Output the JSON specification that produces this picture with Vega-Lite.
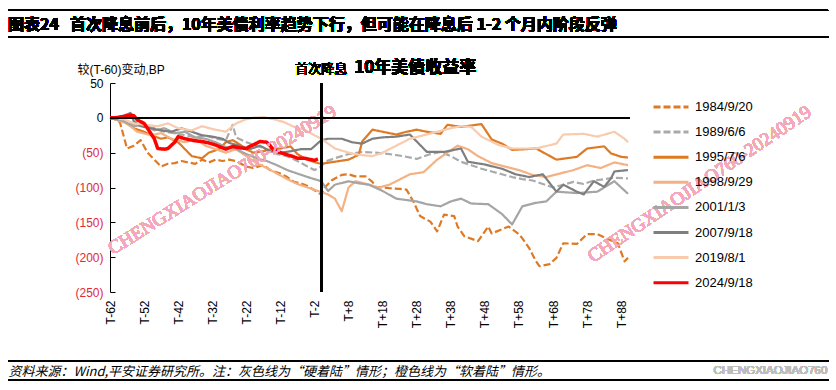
{
  "$schema": "https://vega.github.io/schema/vega-lite/v6.json",
  "width": 518,
  "height": 209,
  "autosize": {"type": "none"},
  "padding": {"left": 110, "top": 83, "right": 208, "bottom": 98},
  "background": "white",
  "config": {
    "view": {"stroke": null},
    "font": "Liberation Sans, Noto Sans CJK SC",
    "axis": {"labelOverlap": false, "labelBound": false}
  },
  "data": {"values": [
    {"s":"1984/9/20","t":-62,"v":0},{"s":"1984/9/20","t":-60,"v":0},{"s":"1984/9/20","t":-59,"v":-8},{"s":"1984/9/20","t":-57,"v":-44},{"s":"1984/9/20","t":-55,"v":-40},{"s":"1984/9/20","t":-53,"v":-32},{"s":"1984/9/20","t":-51,"v":-50},{"s":"1984/9/20","t":-49,"v":-60},{"s":"1984/9/20","t":-47,"v":-70},{"s":"1984/9/20","t":-45,"v":-66},{"s":"1984/9/20","t":-43,"v":-65},{"s":"1984/9/20","t":-41,"v":-62},{"s":"1984/9/20","t":-39,"v":-64},{"s":"1984/9/20","t":-37,"v":-66},{"s":"1984/9/20","t":-35,"v":-60},{"s":"1984/9/20","t":-33,"v":-64},{"s":"1984/9/20","t":-31,"v":-60},{"s":"1984/9/20","t":-29,"v":-62},{"s":"1984/9/20","t":-27,"v":-60},{"s":"1984/9/20","t":-25,"v":-62},{"s":"1984/9/20","t":-22,"v":-70},{"s":"1984/9/20","t":-20,"v":-72},{"s":"1984/9/20","t":-17,"v":-68},{"s":"1984/9/20","t":-15,"v":-75},{"s":"1984/9/20","t":-12,"v":-80},{"s":"1984/9/20","t":-10,"v":-85},{"s":"1984/9/20","t":-8,"v":-92},{"s":"1984/9/20","t":-6,"v":-94},{"s":"1984/9/20","t":-4,"v":-98},{"s":"1984/9/20","t":-2,"v":-104},{"s":"1984/9/20","t":0,"v":-110},{"s":"1984/9/20","t":1,"v":-100},{"s":"1984/9/20","t":3,"v":-90},{"s":"1984/9/20","t":4,"v":-87},{"s":"1984/9/20","t":6,"v":-82},{"s":"1984/9/20","t":8,"v":-81},{"s":"1984/9/20","t":10,"v":-84},{"s":"1984/9/20","t":13,"v":-84},{"s":"1984/9/20","t":15,"v":-92},{"s":"1984/9/20","t":16,"v":-99},{"s":"1984/9/20","t":18,"v":-100},{"s":"1984/9/20","t":20,"v":-101},{"s":"1984/9/20","t":23,"v":-102},{"s":"1984/9/20","t":25,"v":-103},{"s":"1984/9/20","t":27,"v":-120},{"s":"1984/9/20","t":29,"v":-141},{"s":"1984/9/20","t":32,"v":-149},{"s":"1984/9/20","t":34,"v":-163},{"s":"1984/9/20","t":36,"v":-139},{"s":"1984/9/20","t":39,"v":-141},{"s":"1984/9/20","t":40,"v":-156},{"s":"1984/9/20","t":42,"v":-170},{"s":"1984/9/20","t":46,"v":-177},{"s":"1984/9/20","t":49,"v":-156},{"s":"1984/9/20","t":50,"v":-166},{"s":"1984/9/20","t":55,"v":-156},{"s":"1984/9/20","t":58,"v":-167},{"s":"1984/9/20","t":59,"v":-173},{"s":"1984/9/20","t":61,"v":-187},{"s":"1984/9/20","t":63,"v":-206},{"s":"1984/9/20","t":64,"v":-213},{"s":"1984/9/20","t":67,"v":-210},{"s":"1984/9/20","t":69,"v":-201},{"s":"1984/9/20","t":71,"v":-180},{"s":"1984/9/20","t":75,"v":-181},{"s":"1984/9/20","t":78,"v":-167},{"s":"1984/9/20","t":81,"v":-167},{"s":"1984/9/20","t":84,"v":-174},{"s":"1984/9/20","t":87,"v":-180},{"s":"1984/9/20","t":89,"v":-206},{"s":"1984/9/20","t":90,"v":-201},

    {"s":"1989/6/6","t":-62,"v":0},{"s":"1989/6/6","t":-58,"v":-3},{"s":"1989/6/6","t":-55,"v":-10},{"s":"1989/6/6","t":-52,"v":-12},{"s":"1989/6/6","t":-49,"v":-15},{"s":"1989/6/6","t":-46,"v":-20},{"s":"1989/6/6","t":-43,"v":-22},{"s":"1989/6/6","t":-40,"v":-25},{"s":"1989/6/6","t":-37,"v":-28},{"s":"1989/6/6","t":-34,"v":-25},{"s":"1989/6/6","t":-31,"v":-30},{"s":"1989/6/6","t":-28,"v":-32},{"s":"1989/6/6","t":-26,"v":-10},{"s":"1989/6/6","t":-25,"v":-28},{"s":"1989/6/6","t":-22,"v":-35},{"s":"1989/6/6","t":-19,"v":-40},{"s":"1989/6/6","t":-16,"v":-45},{"s":"1989/6/6","t":-13,"v":-52},{"s":"1989/6/6","t":-10,"v":-55},{"s":"1989/6/6","t":-7,"v":-62},{"s":"1989/6/6","t":-4,"v":-70},{"s":"1989/6/6","t":-2,"v":-75},{"s":"1989/6/6","t":0,"v":-70},{"s":"1989/6/6","t":1,"v":-63},{"s":"1989/6/6","t":4,"v":-58},{"s":"1989/6/6","t":8,"v":-52},{"s":"1989/6/6","t":12,"v":-49},{"s":"1989/6/6","t":16,"v":-50},{"s":"1989/6/6","t":20,"v":-52},{"s":"1989/6/6","t":24,"v":-55},{"s":"1989/6/6","t":28,"v":-59},{"s":"1989/6/6","t":32,"v":-52},{"s":"1989/6/6","t":35,"v":-49},{"s":"1989/6/6","t":38,"v":-55},{"s":"1989/6/6","t":41,"v":-63},{"s":"1989/6/6","t":44,"v":-68},{"s":"1989/6/6","t":47,"v":-73},{"s":"1989/6/6","t":50,"v":-77},{"s":"1989/6/6","t":53,"v":-81},{"s":"1989/6/6","t":56,"v":-85},{"s":"1989/6/6","t":59,"v":-88},{"s":"1989/6/6","t":62,"v":-90},{"s":"1989/6/6","t":65,"v":-95},{"s":"1989/6/6","t":68,"v":-100},{"s":"1989/6/6","t":71,"v":-96},{"s":"1989/6/6","t":74,"v":-92},{"s":"1989/6/6","t":77,"v":-95},{"s":"1989/6/6","t":80,"v":-90},{"s":"1989/6/6","t":83,"v":-88},{"s":"1989/6/6","t":86,"v":-86},{"s":"1989/6/6","t":90,"v":-87},

    {"s":"1995/7/6","t":-62,"v":0},{"s":"1995/7/6","t":-58,"v":-5},{"s":"1995/7/6","t":-55,"v":-15},{"s":"1995/7/6","t":-52,"v":-20},{"s":"1995/7/6","t":-50,"v":-25},{"s":"1995/7/6","t":-47,"v":-30},{"s":"1995/7/6","t":-45,"v":-28},{"s":"1995/7/6","t":-42,"v":-35},{"s":"1995/7/6","t":-40,"v":-45},{"s":"1995/7/6","t":-38,"v":-55},{"s":"1995/7/6","t":-35,"v":-58},{"s":"1995/7/6","t":-33,"v":-50},{"s":"1995/7/6","t":-30,"v":-45},{"s":"1995/7/6","t":-28,"v":-35},{"s":"1995/7/6","t":-26,"v":-32},{"s":"1995/7/6","t":-24,"v":-38},{"s":"1995/7/6","t":-22,"v":-45},{"s":"1995/7/6","t":-20,"v":-50},{"s":"1995/7/6","t":-17,"v":-48},{"s":"1995/7/6","t":-15,"v":-45},{"s":"1995/7/6","t":-12,"v":-44},{"s":"1995/7/6","t":-9,"v":-41},{"s":"1995/7/6","t":-7,"v":-52},{"s":"1995/7/6","t":-5,"v":-58},{"s":"1995/7/6","t":-3,"v":-62},{"s":"1995/7/6","t":-1,"v":-65},{"s":"1995/7/6","t":0,"v":-66},{"s":"1995/7/6","t":4,"v":-63},{"s":"1995/7/6","t":8,"v":-60},{"s":"1995/7/6","t":11,"v":-53},{"s":"1995/7/6","t":12,"v":-34},{"s":"1995/7/6","t":15,"v":-17},{"s":"1995/7/6","t":18,"v":-20},{"s":"1995/7/6","t":22,"v":-24},{"s":"1995/7/6","t":25,"v":-20},{"s":"1995/7/6","t":28,"v":-17},{"s":"1995/7/6","t":31,"v":-20},{"s":"1995/7/6","t":35,"v":-23},{"s":"1995/7/6","t":37,"v":-10},{"s":"1995/7/6","t":41,"v":-13},{"s":"1995/7/6","t":44,"v":-11},{"s":"1995/7/6","t":47,"v":-9},{"s":"1995/7/6","t":50,"v":-31},{"s":"1995/7/6","t":53,"v":-37},{"s":"1995/7/6","t":56,"v":-46},{"s":"1995/7/6","t":60,"v":-45},{"s":"1995/7/6","t":63,"v":-44},{"s":"1995/7/6","t":66,"v":-52},{"s":"1995/7/6","t":69,"v":-60},{"s":"1995/7/6","t":72,"v":-58},{"s":"1995/7/6","t":75,"v":-56},{"s":"1995/7/6","t":78,"v":-44},{"s":"1995/7/6","t":83,"v":-41},{"s":"1995/7/6","t":85,"v":-51},{"s":"1995/7/6","t":88,"v":-56},{"s":"1995/7/6","t":90,"v":-57},

    {"s":"1998/9/29","t":-62,"v":0},{"s":"1998/9/29","t":-57,"v":-8},{"s":"1998/9/29","t":-54,"v":-20},{"s":"1998/9/29","t":-50,"v":-25},{"s":"1998/9/29","t":-47,"v":-22},{"s":"1998/9/29","t":-44,"v":-30},{"s":"1998/9/29","t":-40,"v":-35},{"s":"1998/9/29","t":-37,"v":-30},{"s":"1998/9/29","t":-34,"v":-40},{"s":"1998/9/29","t":-31,"v":-45},{"s":"1998/9/29","t":-28,"v":-50},{"s":"1998/9/29","t":-25,"v":-45},{"s":"1998/9/29","t":-22,"v":-55},{"s":"1998/9/29","t":-19,"v":-65},{"s":"1998/9/29","t":-16,"v":-72},{"s":"1998/9/29","t":-13,"v":-80},{"s":"1998/9/29","t":-10,"v":-88},{"s":"1998/9/29","t":-7,"v":-95},{"s":"1998/9/29","t":-4,"v":-100},{"s":"1998/9/29","t":-1,"v":-105},{"s":"1998/9/29","t":2,"v":-110},{"s":"1998/9/29","t":4,"v":-116},{"s":"1998/9/29","t":6,"v":-134},{"s":"1998/9/29","t":8,"v":-100},{"s":"1998/9/29","t":10,"v":-91},{"s":"1998/9/29","t":14,"v":-96},{"s":"1998/9/29","t":17,"v":-100},{"s":"1998/9/29","t":20,"v":-96},{"s":"1998/9/29","t":22,"v":-91},{"s":"1998/9/29","t":26,"v":-81},{"s":"1998/9/29","t":30,"v":-78},{"s":"1998/9/29","t":34,"v":-60},{"s":"1998/9/29","t":37,"v":-50},{"s":"1998/9/29","t":40,"v":-40},{"s":"1998/9/29","t":43,"v":-45},{"s":"1998/9/29","t":46,"v":-55},{"s":"1998/9/29","t":50,"v":-65},{"s":"1998/9/29","t":54,"v":-70},{"s":"1998/9/29","t":58,"v":-75},{"s":"1998/9/29","t":62,"v":-82},{"s":"1998/9/29","t":66,"v":-85},{"s":"1998/9/29","t":70,"v":-80},{"s":"1998/9/29","t":74,"v":-75},{"s":"1998/9/29","t":78,"v":-68},{"s":"1998/9/29","t":82,"v":-72},{"s":"1998/9/29","t":86,"v":-64},{"s":"1998/9/29","t":90,"v":-68},

    {"s":"2001/1/3","t":-62,"v":0},{"s":"2001/1/3","t":-58,"v":-5},{"s":"2001/1/3","t":-55,"v":-12},{"s":"2001/1/3","t":-52,"v":-10},{"s":"2001/1/3","t":-49,"v":-18},{"s":"2001/1/3","t":-46,"v":-15},{"s":"2001/1/3","t":-43,"v":-22},{"s":"2001/1/3","t":-40,"v":-20},{"s":"2001/1/3","t":-37,"v":-28},{"s":"2001/1/3","t":-34,"v":-30},{"s":"2001/1/3","t":-31,"v":-35},{"s":"2001/1/3","t":-28,"v":-42},{"s":"2001/1/3","t":-25,"v":-45},{"s":"2001/1/3","t":-22,"v":-52},{"s":"2001/1/3","t":-19,"v":-58},{"s":"2001/1/3","t":-16,"v":-62},{"s":"2001/1/3","t":-13,"v":-68},{"s":"2001/1/3","t":-10,"v":-75},{"s":"2001/1/3","t":-7,"v":-80},{"s":"2001/1/3","t":-4,"v":-85},{"s":"2001/1/3","t":-2,"v":-88},{"s":"2001/1/3","t":0,"v":-91},{"s":"2001/1/3","t":2,"v":-105},{"s":"2001/1/3","t":4,"v":-96},{"s":"2001/1/3","t":8,"v":-91},{"s":"2001/1/3","t":11,"v":-94},{"s":"2001/1/3","t":14,"v":-96},{"s":"2001/1/3","t":18,"v":-105},{"s":"2001/1/3","t":22,"v":-116},{"s":"2001/1/3","t":28,"v":-120},{"s":"2001/1/3","t":31,"v":-124},{"s":"2001/1/3","t":35,"v":-127},{"s":"2001/1/3","t":38,"v":-120},{"s":"2001/1/3","t":41,"v":-116},{"s":"2001/1/3","t":44,"v":-123},{"s":"2001/1/3","t":49,"v":-124},{"s":"2001/1/3","t":53,"v":-138},{"s":"2001/1/3","t":56,"v":-153},{"s":"2001/1/3","t":59,"v":-127},{"s":"2001/1/3","t":63,"v":-122},{"s":"2001/1/3","t":66,"v":-120},{"s":"2001/1/3","t":69,"v":-106},{"s":"2001/1/3","t":75,"v":-108},{"s":"2001/1/3","t":81,"v":-106},{"s":"2001/1/3","t":86,"v":-91},{"s":"2001/1/3","t":90,"v":-109},

    {"s":"2007/9/18","t":-62,"v":0},{"s":"2007/9/18","t":-58,"v":3},{"s":"2007/9/18","t":-56,"v":7},{"s":"2007/9/18","t":-55,"v":-5},{"s":"2007/9/18","t":-53,"v":-12},{"s":"2007/9/18","t":-50,"v":-15},{"s":"2007/9/18","t":-47,"v":-18},{"s":"2007/9/18","t":-44,"v":-20},{"s":"2007/9/18","t":-41,"v":-15},{"s":"2007/9/18","t":-38,"v":-20},{"s":"2007/9/18","t":-35,"v":-25},{"s":"2007/9/18","t":-32,"v":-27},{"s":"2007/9/18","t":-29,"v":-30},{"s":"2007/9/18","t":-27,"v":-36},{"s":"2007/9/18","t":-24,"v":-40},{"s":"2007/9/18","t":-21,"v":-45},{"s":"2007/9/18","t":-18,"v":-40},{"s":"2007/9/18","t":-15,"v":-48},{"s":"2007/9/18","t":-12,"v":-50},{"s":"2007/9/18","t":-9,"v":-48},{"s":"2007/9/18","t":-6,"v":-45},{"s":"2007/9/18","t":-3,"v":-45},{"s":"2007/9/18","t":0,"v":-32},{"s":"2007/9/18","t":2,"v":-30},{"s":"2007/9/18","t":6,"v":-30},{"s":"2007/9/18","t":9,"v":-35},{"s":"2007/9/18","t":12,"v":-37},{"s":"2007/9/18","t":15,"v":-30},{"s":"2007/9/18","t":18,"v":-28},{"s":"2007/9/18","t":22,"v":-27},{"s":"2007/9/18","t":26,"v":-24},{"s":"2007/9/18","t":28,"v":-34},{"s":"2007/9/18","t":31,"v":-49},{"s":"2007/9/18","t":36,"v":-49},{"s":"2007/9/18","t":41,"v":-44},{"s":"2007/9/18","t":43,"v":-63},{"s":"2007/9/18","t":48,"v":-67},{"s":"2007/9/18","t":53,"v":-73},{"s":"2007/9/18","t":57,"v":-81},{"s":"2007/9/18","t":61,"v":-85},{"s":"2007/9/18","t":65,"v":-81},{"s":"2007/9/18","t":69,"v":-106},{"s":"2007/9/18","t":71,"v":-96},{"s":"2007/9/18","t":75,"v":-106},{"s":"2007/9/18","t":77,"v":-110},{"s":"2007/9/18","t":80,"v":-91},{"s":"2007/9/18","t":83,"v":-99},{"s":"2007/9/18","t":85,"v":-87},{"s":"2007/9/18","t":86,"v":-77},{"s":"2007/9/18","t":90,"v":-75},

    {"s":"2019/8/1","t":-62,"v":0},{"s":"2019/8/1","t":-58,"v":-2},{"s":"2019/8/1","t":-55,"v":-8},{"s":"2019/8/1","t":-52,"v":-10},{"s":"2019/8/1","t":-48,"v":-12},{"s":"2019/8/1","t":-45,"v":-8},{"s":"2019/8/1","t":-42,"v":-15},{"s":"2019/8/1","t":-38,"v":-18},{"s":"2019/8/1","t":-35,"v":-12},{"s":"2019/8/1","t":-32,"v":-16},{"s":"2019/8/1","t":-28,"v":-20},{"s":"2019/8/1","t":-25,"v":-8},{"s":"2019/8/1","t":-22,"v":-2},{"s":"2019/8/1","t":-20,"v":0},{"s":"2019/8/1","t":-17,"v":1},{"s":"2019/8/1","t":-14,"v":-2},{"s":"2019/8/1","t":-11,"v":-6},{"s":"2019/8/1","t":-8,"v":-13},{"s":"2019/8/1","t":-5,"v":-17},{"s":"2019/8/1","t":-2,"v":-25},{"s":"2019/8/1","t":0,"v":-30},{"s":"2019/8/1","t":4,"v":-44},{"s":"2019/8/1","t":8,"v":-50},{"s":"2019/8/1","t":11,"v":-53},{"s":"2019/8/1","t":15,"v":-55},{"s":"2019/8/1","t":18,"v":-50},{"s":"2019/8/1","t":22,"v":-40},{"s":"2019/8/1","t":26,"v":-30},{"s":"2019/8/1","t":30,"v":-25},{"s":"2019/8/1","t":34,"v":-20},{"s":"2019/8/1","t":38,"v":-15},{"s":"2019/8/1","t":41,"v":-12},{"s":"2019/8/1","t":44,"v":-13},{"s":"2019/8/1","t":47,"v":-27},{"s":"2019/8/1","t":52,"v":-39},{"s":"2019/8/1","t":56,"v":-44},{"s":"2019/8/1","t":63,"v":-44},{"s":"2019/8/1","t":69,"v":-37},{"s":"2019/8/1","t":71,"v":-24},{"s":"2019/8/1","t":77,"v":-23},{"s":"2019/8/1","t":81,"v":-27},{"s":"2019/8/1","t":86,"v":-20},{"s":"2019/8/1","t":89,"v":-30},{"s":"2019/8/1","t":90,"v":-35},

    {"s":"2024/9/18","t":-62,"v":0},{"s":"2024/9/18","t":-60,"v":0},{"s":"2024/9/18","t":-58,"v":2},{"s":"2024/9/18","t":-56,"v":4},{"s":"2024/9/18","t":-55,"v":3},{"s":"2024/9/18","t":-54,"v":-3},{"s":"2024/9/18","t":-52,"v":-8},{"s":"2024/9/18","t":-51,"v":-15},{"s":"2024/9/18","t":-49,"v":-30},{"s":"2024/9/18","t":-48,"v":-44},{"s":"2024/9/18","t":-46,"v":-45},{"s":"2024/9/18","t":-45,"v":-44},{"s":"2024/9/18","t":-43,"v":-35},{"s":"2024/9/18","t":-42,"v":-27},{"s":"2024/9/18","t":-40,"v":-30},{"s":"2024/9/18","t":-38,"v":-32},{"s":"2024/9/18","t":-37,"v":-33},{"s":"2024/9/18","t":-35,"v":-34},{"s":"2024/9/18","t":-33,"v":-36},{"s":"2024/9/18","t":-31,"v":-39},{"s":"2024/9/18","t":-29,"v":-43},{"s":"2024/9/18","t":-28,"v":-45},{"s":"2024/9/18","t":-27,"v":-43},{"s":"2024/9/18","t":-26,"v":-41},{"s":"2024/9/18","t":-24,"v":-43},{"s":"2024/9/18","t":-22,"v":-44},{"s":"2024/9/18","t":-21,"v":-41},{"s":"2024/9/18","t":-20,"v":-39},{"s":"2024/9/18","t":-18,"v":-34},{"s":"2024/9/18","t":-16,"v":-35},{"s":"2024/9/18","t":-15,"v":-40},{"s":"2024/9/18","t":-14,"v":-46},{"s":"2024/9/18","t":-12,"v":-50},{"s":"2024/9/18","t":-10,"v":-53},{"s":"2024/9/18","t":-8,"v":-56},{"s":"2024/9/18","t":-7,"v":-58},{"s":"2024/9/18","t":-5,"v":-58},{"s":"2024/9/18","t":-3,"v":-60},{"s":"2024/9/18","t":-2,"v":-61},{"s":"2024/9/18","t":-1,"v":-59}
  ]},
  "layer": [
    {
      "mark": {"type": "line", "interpolate": "linear", "strokeJoin": "round"},
      "encoding": {
        "x": {
          "field": "t", "type": "quantitative",
          "scale": {"domain": [-62, 90], "nice": false, "zero": false},
          "axis": {
            "values": [-62,-52,-42,-32,-22,-12,-2,8,18,28,38,48,58,68,78,88],
            "tickCount": 200,
            "labelExpr": "datum.value < 0 ? 'T' + datum.value : 'T+' + datum.value",
            "labelAngle": -90,
            "labelPadding": 8,
            "labelFontSize": 12,
            "labelColor": "#000000",
            "labelFont": "Liberation Sans",
            "labelOverlap": false,
            "labelBound": false,
            "labelFlush": false,
            "domain": false,
            "ticks": false,
            "grid": false,
            "title": "资料来源：Wind,平安证券研究所。注：灰色线为“硬着陆”情形；橙色线为“软着陆”情形。",
            "titleFont": "Noto Sans CJK SC",
            "titleFontSize": 13,
            "titleFontStyle": "italic",
            "titleFontWeight": "normal",
            "titleColor": "#000000",
            "titleAnchor": "start",
            "titleAlign": "left",
            "titleBaseline": "middle",
            "titleX": -102,
            "titleY": 79
          }
        },
        "y": {
          "field": "v", "type": "quantitative",
          "scale": {"domain": [-250, 50], "nice": false, "zero": false},
          "axis": {
            "values": [50, 0, -50, -100, -150, -200, -250],
            "tickCount": 200,
            "labelExpr": "datum.value < 0 ? '(' + (-datum.value) + ')' : '' + datum.value",
            "labelColor": {"condition": {"test": "datum.value < 0", "value": "#E0283A"}, "value": "#000000"},
            "labelFontSize": 12,
            "labelFont": "Liberation Sans",
            "labelPadding": 12,
            "labelOverlap": false,
            "labelBound": false,
            "labelFlush": false,
            "domainColor": "#000000",
            "domainWidth": 1,
            "tickColor": "#000000",
            "tickSize": -5,
            "grid": false,
            "title": "较(T-60)变动,BP",
            "titleFont": "Liberation Sans, Noto Sans CJK SC",
            "titleFontSize": 12,
            "titleFontWeight": "normal",
            "titleColor": "#000000",
            "titleAngle": 0,
            "titleAlign": "left",
            "titleBaseline": "middle",
            "titleX": -33,
            "titleY": -14
          }
        },
        "color": {
          "field": "s", "type": "nominal",
          "scale": {
            "domain": ["1984/9/20","1989/6/6","1995/7/6","1998/9/29","2001/1/3","2007/9/18","2019/8/1","2024/9/18"],
            "range": ["#DE7A24","#AAAAAA","#DE7A24","#F4B183","#A5A5A5","#7F7F7F","#F8CBAD","#FF0000"]
          },
          "legend": {
            "title": null,
            "orient": "none",
            "legendX": 542,
            "legendY": 17,
            "symbolType": "stroke",
            "symbolSize": 1225,
            "symbolStrokeWidth": 3,
            "labelFontSize": 13,
            "labelFont": "Liberation Sans",
            "labelColor": "#000000",
            "labelOffset": 5,
            "clipHeight": 14,
            "rowPadding": 11.1
          }
        },
        "strokeDash": {
          "field": "s", "type": "nominal",
          "scale": {
            "domain": ["1984/9/20","1989/6/6","1995/7/6","1998/9/29","2001/1/3","2007/9/18","2019/8/1","2024/9/18"],
            "range": [[7,3],[7,3],[1,0],[1,0],[1,0],[1,0],[1,0],[1,0]]
          },
          "legend": {
            "title": null,
            "orient": "none",
            "legendX": 542,
            "legendY": 17,
            "symbolType": "stroke",
            "symbolSize": 1225,
            "symbolStrokeWidth": 3,
            "labelFontSize": 13,
            "labelFont": "Liberation Sans",
            "labelColor": "#000000",
            "labelOffset": 5,
            "clipHeight": 14,
            "rowPadding": 11.1
          }
        },
        "strokeWidth": {"condition": {"test": "datum.s === '2024/9/18'", "value": 3.5}, "value": 2.2}
      }
    },
    {
      "mark": {"type": "text", "font": "Liberation Serif", "fontSize": 19, "angle": -32, "color": "#F4A9BA", "opacity": 0.4},
      "encoding": {
        "x": {"datum": -29.1, "type": "quantitative"},
        "y": {"datum": -89, "type": "quantitative"},
        "text": {"value": "CHENGXIAOJIAO760-20240919"}
      }
    },
    {
      "mark": {"type": "text", "font": "Liberation Serif", "fontSize": 19, "angle": -34, "color": "#F4A9BA", "opacity": 0.4},
      "encoding": {
        "x": {"datum": 111, "type": "quantitative"},
        "y": {"datum": -95, "type": "quantitative"},
        "text": {"value": "CHENGXIAOJIAO760-20240919"}
      }
    },
    {
      "mark": {"type": "rule", "color": "#000000", "strokeWidth": 1.2},
      "encoding": {
        "x": {"datum": -62, "type": "quantitative"},
        "x2": {"datum": 90.5},
        "y": {"datum": 0, "type": "quantitative"}
      }
    },
    {
      "mark": {"type": "rule", "color": "#000000", "strokeWidth": 2.5},
      "encoding": {
        "x": {"datum": 0, "type": "quantitative"}
      }
    },
    {
      "mark": {"type": "text", "fontSize": 13, "align": "center", "baseline": "middle", "font": "Noto Sans CJK SC", "color": "#000000"},
      "encoding": {
        "x": {"datum": 0, "type": "quantitative"},
        "y": {"datum": 70, "type": "quantitative"},
        "text": {"value": "首次降息"}
      }
    },
    {
      "mark": {"type": "text", "fontSize": 17, "fontWeight": "bold", "align": "left", "baseline": "middle", "dx": 33, "font": "Noto Sans CJK SC", "color": "#000000"},
      "encoding": {
        "x": {"datum": 0, "type": "quantitative"},
        "y": {"datum": 71, "type": "quantitative"},
        "text": {"value": "10年美债收益率"}
      }
    },
    {
      "mark": {"type": "rule", "color": "#000000", "strokeWidth": 1.5},
      "encoding": {
        "x": {"datum": -91.9, "type": "quantitative"},
        "x2": {"datum": 148.7},
        "y": {"datum": 154.5, "type": "quantitative"}
      }
    },
    {
      "mark": {"type": "text", "fontSize": 16, "fontWeight": "bold", "align": "left", "baseline": "middle", "font": "Noto Sans CJK SC", "color": "#000000"},
      "encoding": {
        "x": {"datum": -91.9, "type": "quantitative"},
        "y": {"datum": 133.5, "type": "quantitative"},
        "text": {"value": "图表24\u00a0\u00a0\u00a0首次降息前后，10年美债利率趋势下行，但可能在降息后\u00a01-2\u00a0个月内阶段反弹"}
      }
    },
    {
      "mark": {"type": "rule", "color": "#000000", "strokeWidth": 1.5},
      "encoding": {
        "x": {"datum": -91.9, "type": "quantitative"},
        "x2": {"datum": 148.7},
        "y": {"datum": 116, "type": "quantitative"}
      }
    },
    {
      "mark": {"type": "rule", "color": "#000000", "strokeWidth": 1.5},
      "encoding": {
        "x": {"datum": -91.9, "type": "quantitative"},
        "x2": {"datum": 148.7},
        "y": {"datum": -349, "type": "quantitative"}
      }
    },
    {
      "mark": {"type": "rule", "color": "#000000", "strokeWidth": 1.5},
      "encoding": {
        "x": {"datum": -91.9, "type": "quantitative"},
        "x2": {"datum": 148.7},
        "y": {"datum": -376.3, "type": "quantitative"}
      }
    },
    {
      "mark": {"type": "text", "fontSize": 11.5, "align": "right", "baseline": "middle", "font": "Liberation Sans", "color": "#BDBDBD"},
      "encoding": {
        "x": {"datum": 148.5, "type": "quantitative"},
        "y": {"datum": -363.4, "type": "quantitative"},
        "text": {"value": "CHENGXIAOJIAO760"}
      }
    }
  ]
}
